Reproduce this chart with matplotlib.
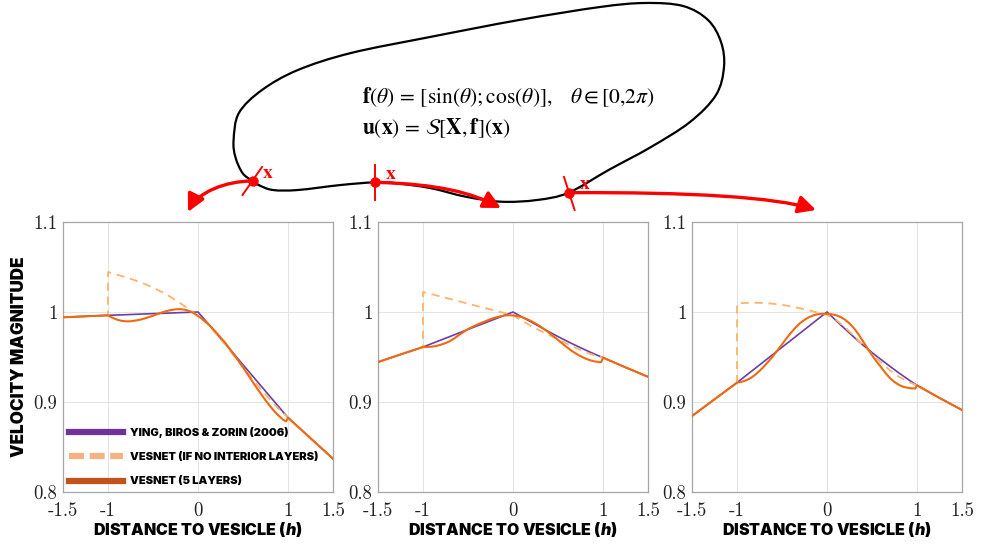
import matplotlib
matplotlib.use("Agg")
import matplotlib.pyplot as plt
from matplotlib.lines import Line2D
from matplotlib.patches import FancyArrowPatch, PathPatch
from matplotlib.path import Path

# ---------------------------------------------------------------- data
dist = [-1.5, -1.25, -1.0, -0.9, -0.8, -0.7, -0.6, -0.5, -0.4, -0.3, -0.2, -0.1,
        0.0, 0.1, 0.2, 0.3, 0.4, 0.5, 0.6, 0.7, 0.8, 0.9, 0.97, 1.0, 1.25, 1.5]
dist_noint = [-1.5, -1.25, -1.0, -1.0, -0.9, -0.8, -0.7, -0.6, -0.5, -0.4, -0.3,
              -0.2, -0.1, 0.0, 0.1, 0.2, 0.3, 0.4, 0.5, 0.6, 0.7, 0.8, 0.9, 1.0,
              1.25, 1.5]
dist_fine = [-1.5, -1.25, -1.0, -0.95, -0.9, -0.85, -0.8, -0.75, -0.7, -0.65, -0.6,
             -0.55, -0.5, -0.45, -0.4, -0.35, -0.3, -0.25, -0.2, -0.15, -0.1, -0.05,
             0.0, 0.05, 0.1, 0.15, 0.2, 0.25, 0.3, 0.35, 0.4, 0.45, 0.5, 0.55, 0.6,
             0.65, 0.7, 0.75, 0.8, 0.85, 0.9, 0.95, 0.98, 1.0, 1.25, 1.5]

# target point 1
ying_p1 = [0.9941, 0.9952, 0.9963, 0.9967, 0.9970, 0.9974, 0.9978, 0.9982, 0.9985,
           0.9989, 0.9993, 0.9996, 1.0000, 0.9885, 0.9768, 0.9650, 0.9532, 0.9414,
           0.9297, 0.9179, 0.9061, 0.8944, 0.8861, 0.8826, 0.8598, 0.8370]
noint_p1 = [0.9941, 0.9952, 0.9963, 1.0444, 1.0415, 1.0385, 1.0352, 1.0315, 1.0272,
            1.0222, 1.0165, 1.0100, 1.0030, 0.9955, 0.9870, 0.9760, 0.9640, 0.9515,
            0.9390, 0.9265, 0.9140, 0.9025, 0.8920, 0.8826, 0.8598, 0.8370]
vesnet5_p1 = [0.9941, 0.9952, 0.9963, 0.9936, 0.9915, 0.9902, 0.9896, 0.9897, 0.9904,
              0.9913, 0.9926, 0.9942, 0.9959, 0.9977, 0.9995, 1.0010, 1.0022, 1.0030,
              1.0032, 1.0026, 1.0012, 0.9988, 0.9956, 0.9920, 0.9880, 0.9830, 0.9775,
              0.9718, 0.9660, 0.9594, 0.9525, 0.9456, 0.9385, 0.9310, 0.9235, 0.9160,
              0.9090, 0.9020, 0.8955, 0.8895, 0.8845, 0.8800, 0.8785, 0.8826, 0.8598,
              0.8370]

# target point 2
ying_p2 = [0.9444, 0.9528, 0.9611, 0.9650, 0.9689, 0.9728, 0.9767, 0.9806, 0.9845,
           0.9883, 0.9922, 0.9961, 1.0000, 0.9945, 0.9890, 0.9835, 0.9780, 0.9727,
           0.9676, 0.9627, 0.9580, 0.9535, 0.9505, 0.9493, 0.9385, 0.9280]
noint_p2 = [0.9444, 0.9528, 0.9611, 1.0222, 1.0197, 1.0171, 1.0145, 1.0119, 1.0093,
            1.0067, 1.0041, 1.0015, 0.9990, 0.9963, 0.9905, 0.9845, 0.9792, 0.9745,
            0.9697, 0.9648, 0.9600, 0.9556, 0.9520, 0.9493, 0.9385, 0.9280]
vesnet5_p2 = [0.9444, 0.9528, 0.9611, 0.9612, 0.9615, 0.9623, 0.9637, 0.9655, 0.9677,
              0.9708, 0.9745, 0.9778, 0.9810, 0.9835, 0.9858, 0.9880, 0.9900, 0.9920,
              0.9937, 0.9950, 0.9960, 0.9964, 0.9962, 0.9955, 0.9943, 0.9924, 0.9900,
              0.9873, 0.9842, 0.9807, 0.9770, 0.9730, 0.9690, 0.9648, 0.9608, 0.9570,
              0.9538, 0.9509, 0.9485, 0.9466, 0.9452, 0.9445, 0.9443, 0.9493, 0.9385,
              0.9280]

# target point 3
ying_p3 = [0.8844, 0.9030, 0.9215, 0.9294, 0.9372, 0.9451, 0.9529, 0.9608, 0.9686,
           0.9765, 0.9843, 0.9922, 1.0000, 0.9905, 0.9812, 0.9720, 0.9632, 0.9550,
           0.9472, 0.9396, 0.9322, 0.9252, 0.9205, 0.9185, 0.9045, 0.8911]
noint_p3 = [0.8844, 0.9030, 0.9215, 1.0096, 1.0101, 1.0103, 1.0100, 1.0092, 1.0080,
            1.0063, 1.0042, 1.0018, 0.9993, 0.9968, 0.9915, 0.9830, 0.9735, 0.9630,
            0.9535, 0.9440, 0.9350, 0.9280, 0.9225, 0.9185, 0.9045, 0.8911]
vesnet5_p3 = [0.8844, 0.9030, 0.9215, 0.9224, 0.9240, 0.9265, 0.9300, 0.9345, 0.9395,
              0.9450, 0.9510, 0.9575, 0.9640, 0.9707, 0.9770, 0.9827, 0.9875, 0.9913,
              0.9943, 0.9963, 0.9976, 0.9981, 0.9980, 0.9975, 0.9965, 0.9945, 0.9915,
              0.9873, 0.9820, 0.9752, 0.9675, 0.9597, 0.9520, 0.9450, 0.9388, 0.9322,
              0.9265, 0.9222, 0.9190, 0.9168, 0.9157, 0.9151, 0.9150, 0.9185, 0.9045,
              0.8911]

x_ticks = [-1.5, -1, 0, 1, 1.5]
x_tick_labels = ["-1.5", "-1", "0", "1", "1.5"]
y_ticks = [0.8, 0.9, 1.0, 1.1]
y_tick_labels = ["0.8", "0.9", "1", "1.1"]
legend_labels = ["YING, BIROS & ZORIN (2006)",
                 "VESNET (IF NO INTERIOR LAYERS)",
                 "VESNET (5 LAYERS)"]

# vesicle outline and evaluation points for the sketch (pixel frame)
vesicle_x = [252.5, 242.5, 235.4, 233.6, 238.9, 262.0, 297.9, 351.0, 430.0, 519.0,
             600.0, 645.0, 683.0, 708.0, 721.0, 724.0, 716.0, 690.0, 651.0, 608.6,
             568.6, 537.0, 501.0, 465.7, 430.0, 394.0, 374.6, 340.7, 297.9, 272.9,
             258.6]
vesicle_y = [181.0, 173.0, 157.0, 140.0, 113.0, 90.0, 70.0, 53.0, 37.0, 20.0,
             7.0, 3.0, 6.0, 20.0, 42.0, 67.0, 95.0, 122.0, 147.0, 170.0,
             192.7, 200.0, 201.7, 196.7, 188.0, 183.0, 182.3, 185.0, 190.0, 190.0,
             185.0]
probe_x = [252.5, 374.6, 568.6]
probe_y = [181.0, 182.3, 192.7]

# ---------------------------------------------------------------- style
PURPLE = "#6a3fa6"
ORANGE = "#ee6a12"
DASH = "#fdb467"
LEG_PURPLE = "#7030a0"
LEG_DASH = "#f4b183"
LEG_ORANGE = "#c5521a"
LABEL_FONT = "Inter"
LABEL_WEIGHT = "black"

plt.rcParams["mathtext.fontset"] = "custom"
plt.rcParams["mathtext.it"] = "Inter:italic:black"
plt.rcParams["mathtext.rm"] = "Inter:black"

fig = plt.figure(figsize=(9.86, 5.47), dpi=100)

W, H = 986.0, 547.0
panel_left = [63, 378, 692]
ax_w, ax_h = 270, 270
ax_bottom_px = 492

series = [(ying_p1, noint_p1, vesnet5_p1),
          (ying_p2, noint_p2, vesnet5_p2),
          (ying_p3, noint_p3, vesnet5_p3)]

axes = []
for i, (ying, noint, ves5) in enumerate(series):
    ax = fig.add_axes([panel_left[i] / W, (H - ax_bottom_px) / H, ax_w / W, ax_h / H])
    axes.append(ax)
    ax.plot(dist, ying, color=PURPLE, lw=1.2, zorder=3)
    ax.plot(dist_noint, noint, color=DASH, lw=1.3, dashes=(4.5, 3.2), zorder=4)
    ax.plot(dist_fine, ves5, color=ORANGE, lw=1.5, zorder=5)

    ax.set_xlim(-1.5, 1.5)
    ax.set_ylim(0.8, 1.1)
    ax.set_xticks(x_ticks)
    ax.set_xticklabels(x_tick_labels)
    ax.set_yticks(y_ticks)
    ax.set_yticklabels(y_tick_labels)
    for lab in ax.get_xticklabels() + ax.get_yticklabels():
        lab.set_fontfamily("cmr10")
        lab.set_fontsize(13.5)
        lab.set_color("#222222")
    ax.tick_params(axis="x", length=0, pad=7.5)
    ax.tick_params(axis="y", length=0, pad=4)
    ax.grid(True, color="#e4e4e4", lw=0.7)
    ax.set_axisbelow(True)
    for sp in ax.spines.values():
        sp.set_color("#a6a6a6")
        sp.set_linewidth(0.9)
    ax.set_xlabel(r"DISTANCE TO VESICLE $\mathit{(h)}$", fontfamily=LABEL_FONT,
                  fontweight=LABEL_WEIGHT, fontsize=11.5, labelpad=0)

axes[0].set_ylabel("VELOCITY MAGNITUDE", fontfamily=LABEL_FONT, fontweight=LABEL_WEIGHT,
                   fontsize=12.3, labelpad=4)

handles = [Line2D([], [], color=LEG_PURPLE, lw=4.5),
           Line2D([], [], color=LEG_DASH, lw=4.5, dashes=(2.4, 0.9)),
           Line2D([], [], color=LEG_ORANGE, lw=4.5)]
leg = axes[0].legend(handles, legend_labels, loc="lower left",
                     bbox_to_anchor=(0.0, 0.0), frameon=False,
                     prop={"family": LABEL_FONT, "weight": LABEL_WEIGHT, "size": 8.0},
                     handlelength=4.9, handletextpad=0.6, labelspacing=1.3,
                     borderaxespad=0.3, borderpad=0.2)
leg.set_zorder(10)

# ---------------------------------------------------------------- sketch
ov = fig.add_axes([0, 0, 1, 1], zorder=20)
ov.set_xlim(0, W)
ov.set_ylim(H, 0)
ov.axis("off")

# closed smooth outline through the vesicle points (Catmull-Rom as Bezier)
n = len(vesicle_x)
verts = [(vesicle_x[0], vesicle_y[0])]
codes = [Path.MOVETO]
for k in range(n):
    p0 = (vesicle_x[k - 1], vesicle_y[k - 1])
    p1 = (vesicle_x[k], vesicle_y[k])
    p2 = (vesicle_x[(k + 1) % n], vesicle_y[(k + 1) % n])
    p3 = (vesicle_x[(k + 2) % n], vesicle_y[(k + 2) % n])
    c1 = (p1[0] + (p2[0] - p0[0]) / 6, p1[1] + (p2[1] - p0[1]) / 6)
    c2 = (p2[0] - (p3[0] - p1[0]) / 6, p2[1] - (p3[1] - p1[1]) / 6)
    verts += [c1, c2, p2]
    codes += [Path.CURVE4] * 3
ov.add_patch(PathPatch(Path(verts, codes), fill=False, ec="black", lw=1.6))

ov.text(362, 97, r"$\mathbf{f}(\theta)\,=\,[\sin(\theta);\cos(\theta)],\quad\theta\in[0{,}2\pi)$",
        math_fontfamily="stix", fontsize=15.5, va="center", ha="left")
ov.text(362, 128, r"$\mathbf{u}(\mathbf{x})\,=\,\mathcal{S}[\mathbf{X},\mathbf{f}](\mathbf{x})$",
        math_fontfamily="stix", fontsize=15.5, va="center", ha="left")

# arrows from each evaluation point toward its panel
arrow_paths = [
    [(probe_x[0], probe_y[0]), (226, 181), (198, 192), (188, 212)],
    [(probe_x[1], probe_y[1]), (440, 184), (472, 193), (501, 208)],
    [(probe_x[2], probe_y[2]), (690, 192), (775, 197), (816, 210)],
]
for pts in arrow_paths:
    pth = Path(pts, [Path.MOVETO, Path.CURVE4, Path.CURVE4, Path.CURVE4])
    arr = FancyArrowPatch(path=pth, arrowstyle="-|>,head_length=0.75,head_width=0.38",
                          mutation_scale=14, color="red", lw=2.4)
    ov.add_patch(arr)

# short normal ticks across the outline at the evaluation points
tick_segments = [((262, 167), (242.5, 195)),
                 ((374.6, 165), (374.6, 200)),
                 ((564, 177), (574.6, 210))]
for (a, b) in tick_segments:
    ov.plot([a[0], b[0]], [a[1], b[1]], color="red", lw=1.4)
ov.plot(probe_x, probe_y, "o", color="red", ms=6.5, zorder=5)
for px, py in zip(probe_x, probe_y):
    ov.text(px + 10, py - 9, r"$\mathbf{x}$", math_fontfamily="stix", color="red",
            fontsize=14, ha="left", va="center")

fig.savefig("out.png", dpi=100)
